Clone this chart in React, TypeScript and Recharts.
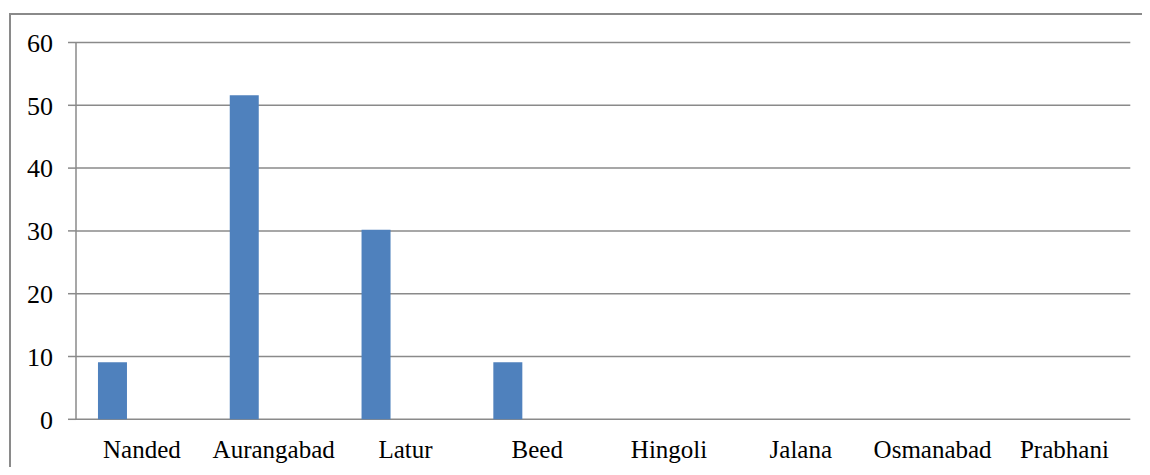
import React from 'react';
import { BarChart, Bar, XAxis, YAxis, CartesianGrid } from 'recharts';

const districts = ['Nanded', 'Aurangabad', 'Latur', 'Beed', 'Hingoli', 'Jalana', 'Osmanabad', 'Prabhani'];
const series1 = [9.1, 51.6, 30.2, 9.1, 0, 0, 0, 0];
const series2 = [0, 0, 0, 0, 0, 0, 0, 0];
const series3 = [0, 0, 0, 0, 0, 0, 0, 0];
const yTicks = [0, 10, 20, 30, 40, 50, 60];
const edgeTicks = [0, 1, 2, 3, 4, 5, 6, 7, 8];

const data = districts.map((name, i) => ({ name, s1: series1[i], s2: series2[i], s3: series3[i] }));

const GRID = '#8a8a8a';
const FONT = '"Liberation Serif", "Times New Roman", serif';

export default function App() {
  return (
    <div style={{ position: 'relative', width: 1142, height: 467, overflow: 'hidden', marginBottom: -8 }}>
      <svg width={1142} height={467} style={{ position: 'absolute', left: 0, top: 0 }}>
        <path d="M2 480 L2 6 L1160 6" fill="none" stroke={GRID} strokeWidth={2} />
      </svg>
      <div style={{ position: 'absolute', left: 0, top: 0 }}>
        <BarChart
          width={1142}
          height={467}
          data={data}
          margin={{ top: 34.5, right: 19.7, bottom: 5.7, left: 0 }}
          barCategoryGap="16.67%"
          barGap={0}
        >
          <CartesianGrid vertical={false} stroke={GRID} strokeWidth={1.5} />
          <XAxis
            xAxisId="edge"
            type="number"
            domain={[0, 8]}
            ticks={edgeTicks}
            tickSize={8}
            height={0}
            tickFormatter={() => ''}
            axisLine={{ stroke: GRID, strokeWidth: 1.5 }}
            tickLine={{ stroke: GRID, strokeWidth: 1.5 }}
            allowDataOverflow
          />
          <XAxis
            xAxisId="cat"
            dataKey="name"
            height={50}
            axisLine={false}
            tickLine={false}
            tickSize={8}
            tickMargin={13}
            interval={0}
            tick={{ fill: '#000', fontSize: 25, fontFamily: FONT }}
          />
          <YAxis
            width={68}
            domain={[0, 60]}
            ticks={yTicks}
            tickSize={8}
            tickMargin={15}
            axisLine={{ stroke: GRID, strokeWidth: 1.5 }}
            tickLine={{ stroke: GRID, strokeWidth: 1.5 }}
            tick={{ fill: '#000', fontSize: 26, fontFamily: FONT }}
          />
          <Bar xAxisId="cat" dataKey="s1" fill="#4F81BD" isAnimationActive={false} />
          <Bar xAxisId="cat" dataKey="s2" fill="#C0504D" isAnimationActive={false} />
          <Bar xAxisId="cat" dataKey="s3" fill="#9BBB59" isAnimationActive={false} />
        </BarChart>
      </div>
    </div>
  );
}
